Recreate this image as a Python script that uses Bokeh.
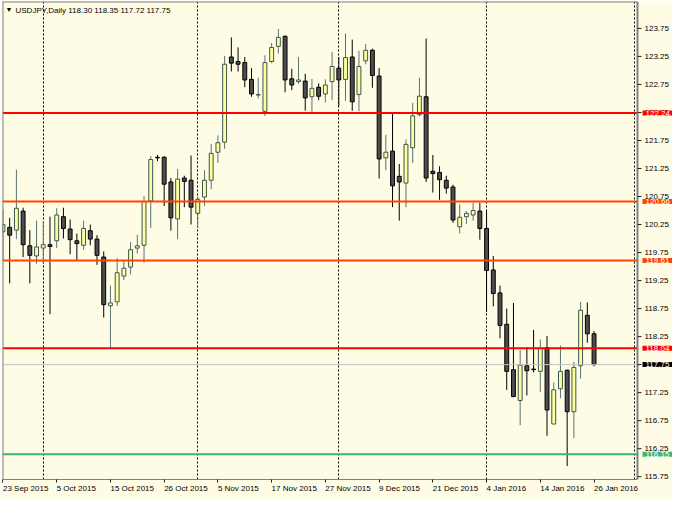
from bokeh.plotting import figure
from bokeh.models import Range1d, LinearAxis, FixedTicker, Label, ColumnDataSource
from bokeh.core.properties import value
from bokeh.embed import file_html
from bokeh.resources import INLINE

SYMBOL = "USDJPY,Daily"

OPEN = [120.12, 120.20, 120.15, 120.49, 119.87, 119.69, 119.83, 119.89, 119.96, 120.39,
        120.17, 119.96, 119.88, 120.14, 119.99, 119.67, 118.80, 118.87, 119.33, 119.49,
        119.83, 119.88, 120.67, 121.45, 121.45, 121.01, 120.35, 121.08, 121.04, 120.45,
        120.74, 121.04, 121.54, 121.72, 123.24, 123.16, 123.14, 122.84, 122.56, 122.27,
        123.16, 123.43, 123.61, 122.85, 122.80, 122.81, 122.53, 122.70, 122.58, 122.80,
        123.04, 122.84, 123.24, 122.57, 123.17, 123.36, 122.90, 121.44, 121.56, 121.11,
        120.99, 121.62, 122.21, 122.53, 121.20, 121.18, 121.04, 120.92, 120.21, 120.39,
        120.42, 120.49, 120.18, 119.44, 119.03, 118.47, 117.66, 117.11, 117.73, 117.67,
        117.63, 118.05, 116.69, 117.32, 117.65, 116.91, 117.73, 118.63, 118.30]
HIGH = [120.52, 120.37, 121.23, 120.55, 120.15, 120.32, 120.31, 120.39, 120.54, 120.55,
        120.34, 120.09, 120.32, 120.25, 120.06, 119.77, 119.16, 119.65, 119.60, 119.94,
        120.07, 120.76, 121.47, 121.49, 121.47, 121.08, 121.24, 121.12, 121.48, 120.75,
        121.22, 121.69, 121.84, 123.26, 123.59, 123.41, 123.24, 123.04, 122.87, 123.27,
        123.49, 123.74, 123.62, 123.03, 123.24, 122.94, 122.85, 122.77, 122.84, 123.33,
        123.24, 123.66, 123.55, 123.35, 123.47, 123.39, 123.04, 121.85, 122.24, 121.33,
        121.77, 122.42, 122.87, 123.57, 121.49, 121.29, 121.12, 120.96, 120.61, 120.49,
        120.64, 120.64, 120.49, 119.69, 119.16, 118.75, 118.85, 118.01, 118.06, 118.37,
        118.20, 118.26, 117.43, 118.09, 117.66, 117.80, 118.87, 118.86, 118.35]
LOW = [119.60, 119.20, 119.99, 119.67, 119.20, 119.55, 119.55, 118.65, 119.83, 120.00,
       119.72, 119.60, 119.80, 119.88, 119.53, 118.59, 118.04, 118.80, 119.26, 119.36,
       119.73, 119.57, 120.19, 121.38, 120.58, 120.14, 119.99, 120.56, 120.25, 120.19,
       120.58, 120.88, 121.35, 121.60, 122.98, 122.98, 122.70, 122.53, 122.50, 122.19,
       123.13, 123.30, 122.61, 122.65, 122.76, 122.28, 122.24, 122.47, 122.43, 122.47,
       122.36, 122.46, 122.28, 122.27, 123.11, 122.69, 121.07, 121.22, 120.56, 120.32,
       120.56, 121.35, 122.18, 121.01, 120.82, 120.69, 120.80, 120.28, 120.09, 120.26,
       120.32, 119.98, 118.69, 118.79, 118.22, 117.30, 117.17, 116.67, 117.20, 117.61,
       117.26, 116.48, 116.69, 117.15, 115.94, 116.44, 117.50, 118.14, 117.72]
CLOSE = [120.25, 120.06, 120.54, 119.89, 119.70, 119.85, 119.89, 119.86, 120.42, 120.18,
         119.98, 119.91, 120.18, 119.99, 119.70, 118.82, 118.85, 119.39, 119.47, 119.80,
         119.87, 120.66, 121.41, 121.44, 120.97, 120.37, 121.06, 121.02, 120.56, 120.70,
         121.04, 121.52, 121.71, 123.11, 123.13, 123.11, 122.83, 122.58, 122.57, 123.14,
         123.41, 123.59, 122.83, 122.74, 122.83, 122.51, 122.68, 122.54, 122.74, 123.07,
         122.83, 123.23, 122.44, 123.07, 123.36, 122.91, 121.42, 121.54, 120.94, 121.01,
         121.68, 122.19, 122.54, 121.08, 121.16, 121.05, 120.90, 120.33, 120.38, 120.45,
         120.50, 120.18, 119.43, 119.02, 118.45, 117.63, 117.18, 117.74, 117.64, 117.66,
         118.04, 116.94, 117.30, 117.63, 116.91, 117.70, 118.72, 118.30, 117.75]

DATE_TICKS = [0, 8, 16, 24, 32, 40, 48, 56, 64, 72, 80, 88]
DATE_LABELS = ["23 Sep 2015", "5 Oct 2015", "15 Oct 2015", "26 Oct 2015", "5 Nov 2015",
               "17 Nov 2015", "27 Nov 2015", "9 Dec 2015", "21 Dec 2015", "4 Jan 2016",
               "14 Jan 2016", "26 Jan 2016"]
PRICE_TICKS = [115.75, 116.25, 116.75, 117.25, 117.75, 118.25, 118.75, 119.25, 119.75,
               120.25, 120.75, 121.25, 121.75, 122.25, 122.75, 123.25, 123.75]
GRID_BARS = [6, 29, 50, 72, 94]
LEVELS = [122.24, 120.66, 119.61, 118.04, 116.15]
LEVEL_COLORS = ["#FF0000", "#FF4500", "#FF4500", "#FF0000", "#3CB371"]

BG = "#FFFCE6"
FRAME_GRAY = "#808080"
FONT = "Liberation Sans"

# layout: canvas, borders, and the chart pane width inside the plotting frame
W, H = 672, 500
BL, BT, BR, BB = 2, 1, 0, 18
CHART_W = 635                 # pixels of the candle pane; the rest is the price scale
FW = W - BL - BR
X0, X1 = -0.07, 94.47         # candle pane limits in bar units
XR = X0 + (X1 - X0) * FW / CHART_W
Y0, Y1 = 115.70, 124.23

p = figure(width=W, height=H, output_backend="svg", toolbar_location=None,
           x_range=Range1d(X0, XR), y_range=Range1d(Y0, Y1),
           x_axis_location=None, y_axis_location=None,
           min_border_left=BL, min_border_top=BT, min_border_right=BR, min_border_bottom=BB,
           background_fill_color=BG, border_fill_color=BG)
p.xgrid.visible = False
p.ygrid.visible = False
p.outline_line_color = None

# bottom date axis (labels start at their tick, as in MT4)
xa = LinearAxis(ticker=FixedTicker(ticks=DATE_TICKS), bounds=(X0, X1),
                major_label_overrides={t: lab for t, lab in zip(DATE_TICKS, DATE_LABELS)})
xa.axis_line_color = FRAME_GRAY
xa.axis_line_width = 1
xa.major_tick_out = 3
xa.major_tick_in = 0
xa.major_tick_line_color = "#202020"
xa.minor_tick_line_color = None
xa.major_label_standoff = 6
xa.major_label_orientation = -0.0001
xa.major_label_text_font = FONT
xa.major_label_text_font_size = "8px"
xa.major_label_text_color = "black"
p.add_layout(xa, "below")

# vertical period separators
p.vspan(x=GRID_BARS, line_color="black", line_dash="2 2", line_width=1)

# candles
idx = list(range(len(OPEN)))
bull = [c >= o for o, c in zip(OPEN, CLOSE)]
src = ColumnDataSource(dict(
    x=idx, o=OPEN, h=HIGH, l=LOW, c=CLOSE,
    top=[max(o, c) for o, c in zip(OPEN, CLOSE)],
    bot=[min(o, c) for o, c in zip(OPEN, CLOSE)],
    fill=["#FFFF99" if b else "#4D4D4D" for b in bull],
    edge=["#3A5555" if b else "#000000" for b in bull],
    wick=["#587272" if b else "#000000" for b in bull],
))
p.segment(x0="x", y0="l", x1="x", y1="h", line_color="wick", line_width=1, source=src)
p.vbar(x="x", width=0.58, top="top", bottom="bot", fill_color="fill", line_color="edge",
       line_width=1, source=src)

# bid line and horizontal levels, ending at the pane border
n = len(LEVELS)
p.segment(x0=[X0], x1=[X1], y0=[CLOSE[-1]], y1=[CLOSE[-1]], line_color="#C0C0C0", line_width=1)
p.segment(x0=[X0] * n, x1=[X1] * n, y0=LEVELS, y1=LEVELS, line_color=LEVEL_COLORS, line_width=2)

# pane borders
p.segment(x0=[X0, X0], x1=[X0, X1], y0=[Y0, Y1], y1=[Y1, Y1], line_color=FRAME_GRAY, line_width=2)
p.segment(x0=[X1], x1=[X1], y0=[Y0], y1=[Y1], line_color=FRAME_GRAY, line_width=2)

# price scale on the right of the pane
m = len(PRICE_TICKS)
p.ray(x=[X1] * m, y=PRICE_TICKS, length=4, length_units="screen", angle=0,
      line_color="#202020", line_width=1)
p.text(x=[X1] * m, y=PRICE_TICKS, text=[f"{t:.2f}" for t in PRICE_TICKS], x_offset=7,
       text_align="left", text_baseline="middle", text_font=value(FONT),
       text_font_size="8px", text_color="black")

# price tags
pad = dict(left=3, right=3, top=0, bottom=0)
for lvl, col in zip(LEVELS, LEVEL_COLORS):
    p.add_layout(Label(x=X1, y=lvl, x_offset=5, text=f"{lvl:.2f}", text_color="white",
                       text_font=FONT, text_font_size="8px", text_baseline="middle",
                       background_fill_color=col, padding=pad))
p.add_layout(Label(x=X1, y=CLOSE[-1], x_offset=5, text=f"{CLOSE[-1]:.2f}", text_color="white",
                   text_font=FONT, text_font_size="8px", text_baseline="middle",
                   background_fill_color="black", padding=pad))

# header
p.add_layout(Label(x=X0, y=Y1, x_offset=3, y_offset=-4, text="\u25bc", text_color="black",
                   text_font=FONT, text_font_size="7px", text_baseline="top"))
header = f"{SYMBOL}  {OPEN[-1]:.2f} {HIGH[-1]:.2f} {LOW[-1]:.2f} {CLOSE[-1]:.2f}"
p.add_layout(Label(x=X0, y=Y1, x_offset=13, y_offset=-4, text=header, text_color="black",
                   text_font=FONT, text_font_size="8px", text_baseline="top"))

open("out.html", "w").write(file_html(p, INLINE))
